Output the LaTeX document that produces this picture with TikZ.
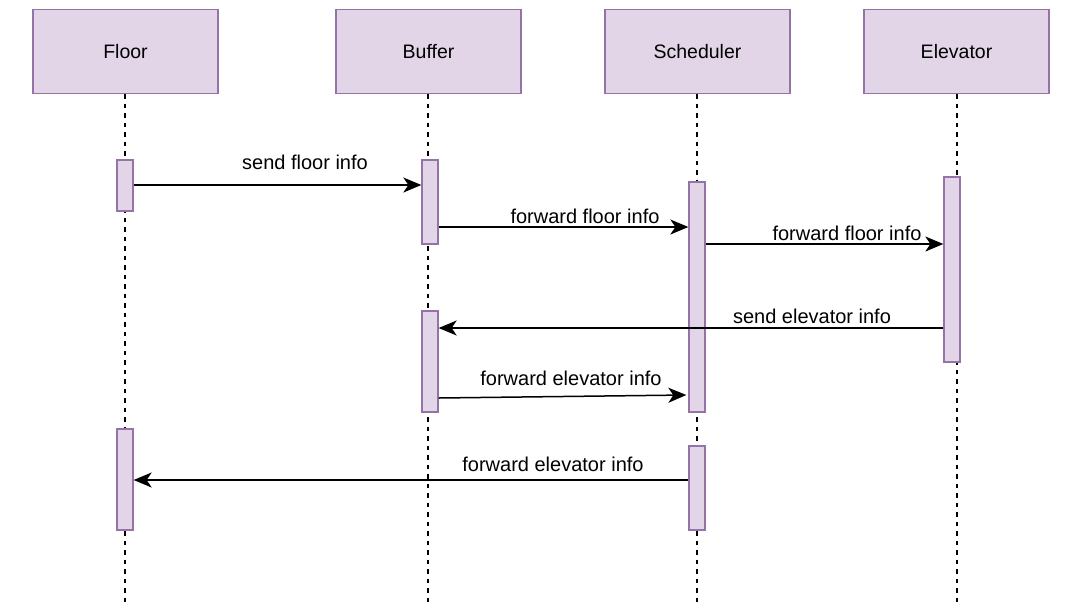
\documentclass[tikz,border=0pt]{standalone}
\usepackage{fontspec}
\setmainfont{Liberation Sans}
\usetikzlibrary{arrows.meta}
\definecolor{boxfill}{HTML}{E1D5E7}
\definecolor{boxdraw}{HTML}{9673A6}
\begin{document}
\begin{tikzpicture}[x=1pt,y=-1pt,
  actor/.style={draw=boxdraw,fill=boxfill,line width=1.3pt,minimum width=185pt,minimum height=84pt,inner sep=0pt,font=\fontsize{19.5}{22}\selectfont},
  actbar/.style={draw=boxdraw,fill=boxfill,line width=1.3pt,minimum width=16pt,inner sep=0pt},
  life/.style={line width=1.5pt,dash pattern=on 4.5pt off 5pt},
  msg/.style={line width=1.5pt,-{Stealth[length=18pt,width=15pt,inset=5pt]}},
  lbl/.style={font=\fontsize{20}{22}\selectfont,inner sep=0pt}]
\useasboundingbox (0,0) rectangle (1084,606);
% lifelines
\coordinate (fe) at (125,606);
\coordinate (be) at (428,606);
\coordinate (se) at (697,606);
\coordinate (ee) at (957,603);
\node[actor] (floor) at (125.5,51.5) {Floor};
\node[actor] (buffer) at (428.5,51.5) {Buffer};
\node[actor] (sched) at (697.5,51.5) {Scheduler};
\node[actor] (elev) at (956.5,51.5) {Elevator};
\draw[life] (floor.south -| fe) -- (fe);
\draw[life] (buffer.south -| be) -- (be);
\draw[life] (sched.south -| se) -- (se);
\draw[life] (elev.south -| ee) -- (ee);
% activation bars
\node[actbar,minimum height=51pt] (f1) at (125,185.5) {};
\node[actbar,minimum height=101pt] (f2) at (125,479.5) {};
\node[actbar,minimum height=84pt] (b1) at (430,202) {};
\node[actbar,minimum height=101pt] (b2) at (430,361.5) {};
\node[actbar,minimum height=230pt] (s1) at (697,297) {};
\node[actbar,minimum height=84pt] (s2) at (697,488) {};
\node[actbar,minimum height=185pt] (e1) at (952,269.5) {};
% messages
\draw[msg] (f1.east |- 0,185) -- (b1.west |- 0,185);
\draw[msg] (b1.east |- 0,227) -- (s1.west |- 0,227);
\draw[msg] (s1.east |- 0,244) -- (e1.west |- 0,244);
\draw[msg] (e1.west |- 0,328) -- (b2.east |- 0,328);
\draw[msg] (b2.east |- 0,398) -- ([xshift=-2pt]s1.west |- 0,395);
\draw[msg] (s2.west |- 0,480) -- (f2.east |- 0,480);
% labels
\node[lbl] (l1) at (305,162) {send floor info};
\node[lbl] (l2) at (585,216) {forward floor info};
\node[lbl] (l3) at (847,233) {forward floor info};
\node[lbl] (l4) at (812,316) {send elevator info};
\node[lbl] (l5) at (571,378) {forward elevator info};
\node[lbl] (l6) at (553,464) {forward elevator info};
\end{tikzpicture}
\end{document}
